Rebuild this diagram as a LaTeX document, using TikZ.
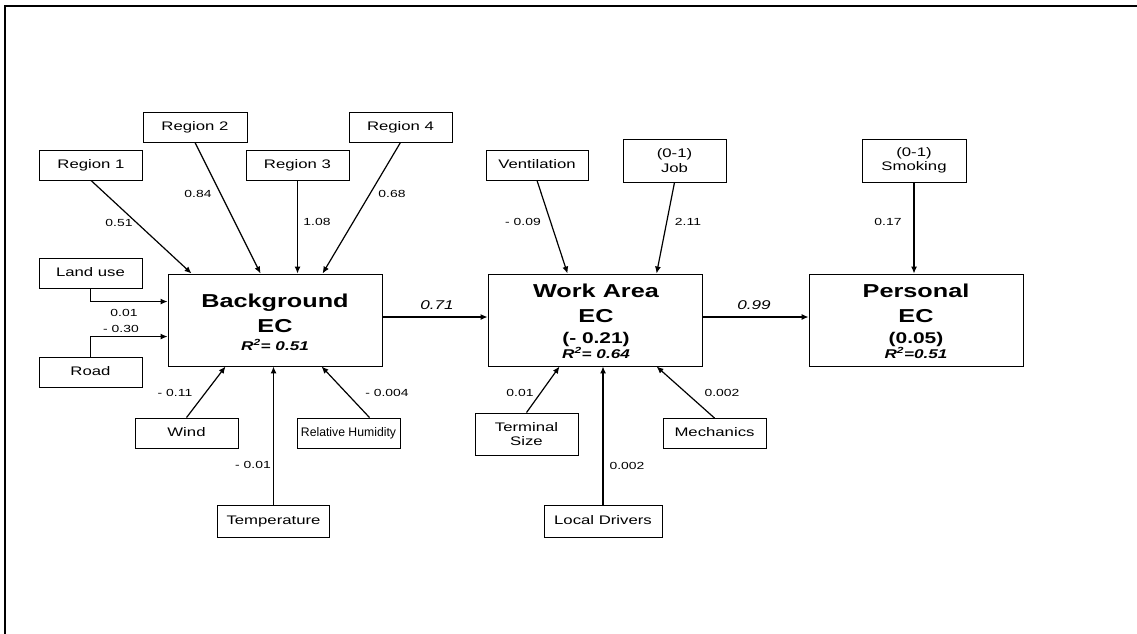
\documentclass[tikz,border=0pt]{standalone}
\usepackage{fontspec}
\setmainfont{Liberation Sans}[FakeStretch=1.35]
\usepackage{graphicx}
\usetikzlibrary{arrows.meta}
\begin{document}
\begin{tikzpicture}[x=1pt,y=-1pt,
  box/.style={draw, line width=0.9pt, inner sep=0pt, align=center,
    font=\fontsize{12.4}{14.5}\selectfont},
  one/.style={text height=9pt, text depth=2.6pt},
  big/.style={draw, line width=0.9pt, inner sep=0pt, minimum width=214pt, minimum height=92pt},
  arr/.style={line width=1.2pt, -{Latex[length=7pt,width=6pt]}},
  el/.style={inner sep=0pt, font=\fontsize{10.3}{12}\selectfont},
  ml/.style={inner sep=0pt, font=\itshape\fontsize{12.7}{14}\selectfont},
  ttl/.style={inner sep=0pt, anchor=base, font=\bfseries\fontsize{18.7}{20}\selectfont},
  prn/.style={inner sep=0pt, anchor=base, font=\bfseries\fontsize{15.5}{17}\selectfont},
  rsq/.style={inner sep=0pt, anchor=base, font=\bfseries\itshape\fontsize{12.7}{14}\selectfont}]
\useasboundingbox (0,0) rectangle (1137,634);
\clip (0,0) rectangle (1137,634);
\draw[line width=2pt] (5,650) -- (5,6) -- (1150,6);

% predictor boxes
\node[box,one,minimum width=103pt,minimum height=30pt] (r1) at (91,165) {Region 1};
\node[box,one,minimum width=104pt,minimum height=30pt] (r2) at (195,127) {Region 2};
\node[box,one,minimum width=103pt,minimum height=30pt] (r3) at (297.5,165) {Region 3};
\node[box,one,minimum width=103pt,minimum height=30pt] (r4) at (400.5,127) {Region 4};
\node[box,one,minimum width=103pt,minimum height=30pt] (land) at (90.5,273) {Land use};
\node[box,one,minimum width=103pt,minimum height=30pt] (road) at (90.5,372.5) {Road};
\node[box,one,minimum width=103pt,minimum height=30pt] (wind) at (186.5,433) {Wind};
\node[box,one,minimum width=103pt,minimum height=30pt] (rh) at (348.5,433) {\scalebox{0.73}[1]{Relative Humidity}};
\node[box,one,minimum width=112pt,minimum height=32pt] (temp) at (273.5,521) {Temperature};
\node[box,one,minimum width=102pt,minimum height=30pt] (vent) at (537,165) {Ventilation};
\node[box,minimum width=103pt,minimum height=43pt] (job) at (674.5,160.5) {(0-1)\\Job};
\node[box,minimum width=103pt,minimum height=42pt] (term) at (526.5,434) {Terminal\\Size};
\node[box,one,minimum width=103pt,minimum height=30pt] (mech) at (714.5,433.5) {Mechanics};
\node[box,one,minimum width=118pt,minimum height=32pt] (local) at (603,521) {Local Drivers};
\node[box,minimum width=104pt,minimum height=43pt] (smoke) at (914,160.5) {(0-1)\\Smoking};

% main boxes
\node[big] (bg) at (275,320) {};
\node[ttl] (bgt1) at (275,307) {Background};
\node[ttl] (bgt2) at (275,332) {EC};
\node[rsq] (bgt3) at (275,350) {R\textsuperscript{2}= 0.51};

\node[big] (wa) at (595,320) {};
\node[ttl] (wat1) at (596,297) {Work Area};
\node[ttl] (wat2) at (596,322) {EC};
\node[prn] (wat3) at (596,343) {(- 0.21)};
\node[rsq] (wat4) at (596,358) {R\textsuperscript{2}= 0.64};

\node[big] (pe) at (916,320) {};
\node[ttl] (pet1) at (916,297) {Personal};
\node[ttl] (pet2) at (916,322) {EC};
\node[prn] (pet3) at (916,343) {(0.05)};
\node[rsq] (pet4) at (916,358) {R\textsuperscript{2}=0.51};

% connectors into Background EC
\draw[arr] (r1.south) -- ([xshift=24pt]bg.north west);
\draw[arr] (r2.south) -- ([xshift=93pt]bg.north west);
\draw[arr] (r3.south) -- (r3.south |- bg.north);
\draw[arr] (r4.south) -- ([xshift=155pt]bg.north west);
\draw[arr] (land.south) |- ([yshift=-28pt]bg.north west);
\draw[arr] (road.north) |- ([yshift=-63pt]bg.north west);
\draw[arr] (wind.north) -- ([xshift=58pt]bg.south west);
\draw[arr] (temp.north) -- (temp.north |- bg.south);
\draw[arr] ([xshift=21pt]rh.north) -- ([xshift=154pt]bg.south west);

% connectors into Work Area EC
\draw[arr] (vent.south) -- ([xshift=80pt]wa.north west);
\draw[arr] (job.south) -- ([xshift=169pt]wa.north west);
\draw[arr] (term.north) -- ([xshift=72pt]wa.south west);
\draw[arr] (local.north) -- (local.north |- wa.south);
\draw[arr] (mech.north) -- ([xshift=169pt]wa.south west);

% connectors into Personal EC
\draw[arr] (smoke.south) -- (smoke.south |- pe.north);
\draw[arr] ([yshift=3pt]bg.east) -- ([yshift=3pt]wa.west);
\draw[arr] ([yshift=3pt]wa.east) -- ([yshift=3pt]pe.west);

% coefficient labels
\node[el] (l1) at (119,223) {0.51};
\node[el] (l2) at (198,194) {0.84};
\node[el] (l3) at (317,222) {1.08};
\node[el] (l4) at (392,194) {0.68};
\node[el] (l5) at (124,313) {0.01};
\node[el] (l6) at (121,329) {- 0.30};
\node[el] (l7) at (175,393) {- 0.11};
\node[el] (l8) at (253,465) {- 0.01};
\node[el] (l9) at (387,393) {- 0.004};
\node[el] (l10) at (523,222) {- 0.09};
\node[el] (l11) at (688,222) {2.11};
\node[el] (l12) at (888,222) {0.17};
\node[el] (l13) at (520,393) {0.01};
\node[el] (l14) at (627,466) {0.002};
\node[el] (l15) at (722,393) {0.002};
\node[ml] (l16) at (437,305) {0.71};
\node[ml] (l17) at (754,305) {0.99};
\end{tikzpicture}
\end{document}
